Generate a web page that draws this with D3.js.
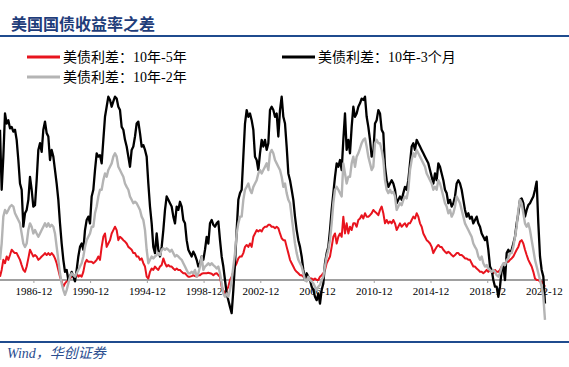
<!DOCTYPE html>
<html>
<head>
  <meta charset="utf-8">
  <title>美国国债收益率之差</title>
  <script src="https://cdn.jsdelivr.net/npm/d3@7"></script>
  <style>
    body { margin: 0; background: #fff; }
    svg { display: block; }
    .serif { font-family: "Liberation Serif", "Times New Roman", "Noto Sans CJK SC", serif; }
  </style>
</head>
<body>
<script>
// 10年-5年, 10年-2年, 10年-3个月 spreads (%), start 1984-07 to 2022-12
var spread10y5y = [
  0.07,0.21,0.42,0.35,0.49,0.42,0.52,0.63,0.59,0.56,0.56,0.49,0.42,0.31,0.21,0.17,0.28,0.45,0.63,0.56,0.49,0.52,0.49,0.42,0.45,0.49,0.52,0.56,0.52,0.56,0.52,0.56,0.52,0.45,0.35,0.21,0.07,-0.03,-0.14,-0.07,-0.03,0,0.03,0.07,0.10,0.07,0.14,0.07,0.10,0.07,0.17,0.35,0.42,0.38,0.38,0.38,0.35,
  0.38,0.42,0.49,0.42,0.69,0.90,0.97,0.69,0.76,0.83,0.97,1.04,1.11,1.04,0.83,0.90,0.87,0.83,0.80,0.76,0.69,0.66,0.63,0.56,0.56,0.49,0.49,0.42,0.45,0.35,0.28,0.07,0.03,0.17,0.24,0.21,0.28,0.24,0.21,0.28,0.31,0.45,0.35,0.28,0.31,0.28,0.28,0.24,0.21,0.24,0.21,0.21,0.17,0.14,0.14,0.10,0.07,
  0.07,0.08,0.10,0.08,0.07,0.10,0.10,0.13,0.14,0.14,0.14,0.15,0.14,0.13,0.10,0.13,0.14,0.10,0.07,-0.14,-0.21,-0.28,-0.21,-0.14,0,0.07,0.17,0.28,0.35,0.45,0.49,0.49,0.56,0.69,0.73,0.69,0.76,0.69,0.90,0.97,1.04,1.01,1.04,1.01,1.08,1.11,1.11,1.15,1.15,1.11,1.11,1.08,1.11,1.08,0.97,0.87,0.83,
  0.83,0.69,0.56,0.42,0.35,0.28,0.21,0.17,0.14,0.10,0.10,0.07,0.07,0.06,0.07,0.03,0.03,0,0.03,0,0,0.07,0.10,0.14,0.21,0.35,0.42,0.49,0.69,0.90,0.97,0.76,0.90,0.97,0.90,1.32,0.97,1.18,0.97,1.11,1.04,1.18,1.18,1.11,1.25,1.28,1.35,1.28,1.39,1.32,1.32,1.35,1.39,1.46,1.42,1.39,1.35,
  1.46,1.53,1.39,1.18,1.25,1.18,1.22,1.18,1.25,1.18,1.04,1.11,1.18,1.11,1.15,1.18,1.11,1.18,1.18,1.25,1.32,1.28,1.39,1.32,1.18,1.11,0.97,0.90,0.83,0.80,0.76,0.69,0.56,0.63,0.69,0.73,0.69,0.69,0.63,0.59,0.56,0.59,0.56,0.52,0.49,0.52,0.56,0.56,0.52,0.52,0.49,0.45,0.45,0.42,0.42,0.35,0.28,
  0.28,0.24,0.21,0.17,0.17,0.14,0.17,0.21,0.17,0.21,0.17,0.14,0.21,0.17,0.17,0.21,0.28,0.31,0.35,0.38,0.38,0.42,0.45,0.49,0.56,0.63,0.69,0.80,0.83,0.76,0.63,0.52,0.42,0.35,0.28,0.17,0.03,0,0,-0.03,-0.03,-0.07,-0.14
];
var spread10y3m = [
  3.13,1.88,2.57,3.47,3.26,3.33,3.16,3.19,3.09,3.13,2.92,2.50,2.01,1.88,1.11,1.39,1.46,1.67,2.15,1.88,1.53,1.56,2.08,2.71,2.85,2.67,3.13,3.30,3.06,2.99,2.50,2.71,2.57,2.29,2.01,1.67,1.18,0.76,0.42,0.17,0.21,0,0.07,0.17,0.07,-0.03,0.21,0.49,0.69,0.76,0.63,1.04,1.25,1.32,1.18,1.74,1.88,
  2.29,2.64,2.57,2.60,2.43,2.92,3.40,3.61,3.82,3.75,3.61,3.72,3.82,3.78,3.61,3.54,3.19,3.13,2.92,2.78,2.57,2.36,2.71,2.78,2.99,3.26,3.30,3.06,2.78,2.81,2.71,2.57,2.01,1.53,1.18,0.69,0.56,0.97,0.63,0.49,0.69,1.04,1.46,1.74,1.67,1.60,1.53,1.32,1.18,1.53,1.46,1.63,1.53,1.25,1.18,0.83,0.63,
  0.56,0.49,0.59,0.52,0.42,0.28,0.35,0.49,0.42,0.63,0.90,0.76,1.18,1.25,1.15,1.11,1.18,1.22,0.83,0.49,0.28,0,-0.28,-0.42,-0.56,-0.69,-0.21,0.35,1.04,1.67,1.81,1.88,2.57,3.26,3.54,3.40,3.47,3.33,3.13,2.57,2.50,2.29,2.64,2.92,2.78,2.92,2.71,2.85,3.54,3.61,3.54,3.40,3.47,2.99,3.54,3.82,3.40,
  3.26,2.78,2.22,2.08,1.88,1.67,1.32,1.04,0.83,0.69,0.49,0.21,0,0.14,0.07,0,-0.14,-0.21,-0.35,-0.42,-0.28,-0.49,-0.21,-0.07,0.35,0.56,0.69,1.04,1.46,1.81,2.15,2.43,2.36,2.50,2.29,2.92,3.47,2.71,2.92,2.64,3.19,3.61,3.40,3.47,3.61,3.68,3.78,3.75,3.82,3.40,3.19,2.92,2.57,2.64,3.26,3.33,3.54,
  3.47,3.13,3.06,2.36,2.08,1.94,2.01,2.08,2.01,1.88,1.60,1.67,1.74,1.67,1.81,1.94,1.88,2.08,2.43,2.78,2.85,2.71,2.92,2.85,2.78,2.71,2.64,2.57,2.50,2.43,2.29,2.15,2.01,2.22,2.08,2.43,2.36,2.22,2.08,1.88,1.81,1.60,1.67,1.53,1.60,1.74,2.01,2.08,2.01,1.88,1.67,1.46,1.32,1.39,1.28,1.32,1.18,
  1.25,1.32,1.18,1.11,0.97,0.90,0.83,0.90,0.63,0.28,0.21,0,-0.14,-0.14,-0.35,-0.14,0.21,0.28,0,0.56,0.63,0.56,0.63,0.76,0.90,1.18,1.39,1.67,1.70,1.60,1.32,1.46,1.56,1.60,1.67,1.74,1.88,2.05,1.18,0.49,0.21,0.07,-0.49
];
var spread10y2y = [
  0.42,0.76,1.32,1.46,1.39,1.46,1.53,1.56,1.53,1.39,1.32,1.25,1.18,0.97,0.76,0.69,0.76,1.04,1.18,1.11,0.97,1.04,0.97,0.90,0.97,1.04,1.11,1.18,1.11,1.18,1.11,1.15,1.11,0.97,0.69,0.42,0.14,-0.07,-0.21,-0.31,-0.21,-0.07,0.07,0.14,0.10,0.07,0.14,0.21,0.28,0.35,0.49,0.69,0.83,0.90,0.97,1.11,1.11,
  1.39,1.53,1.74,1.88,1.88,2.08,2.22,2.15,2.29,2.36,2.43,2.57,2.64,2.57,2.36,2.29,2.22,2.15,2.01,1.94,1.88,1.74,1.67,1.60,1.63,1.60,1.53,1.46,1.32,1.25,1.04,0.63,0.35,0.42,0.49,0.45,0.49,0.52,0.56,0.52,0.63,0.66,0.63,0.66,0.63,0.59,0.63,0.56,0.49,0.52,0.49,0.45,0.42,0.35,0.28,0.21,0.14,
  0.14,0.17,0.14,0.21,0.07,0.14,0.28,0.49,0.21,0.28,0.31,0.35,0.31,0.35,0.31,0.28,0.24,0.28,0.14,-0.07,-0.28,-0.35,-0.28,-0.35,-0.21,0,0.28,0.56,0.97,1.18,1.32,1.32,1.67,1.88,1.94,2.01,1.88,1.81,1.94,2.01,2.08,2.22,2.29,2.22,2.29,2.36,2.43,2.29,2.64,2.71,2.64,2.50,2.43,2.36,2.29,2.15,1.94,
  2.01,1.81,1.67,1.60,1.32,1.04,0.76,0.56,0.42,0.35,0.28,0.14,0,-0.03,0.07,0,-0.03,-0.07,-0.14,-0.21,-0.14,-0.10,0,0.07,0.28,0.49,0.63,0.83,1.18,1.60,1.88,1.94,1.88,1.81,1.74,2.43,2.22,2.01,2.15,2.15,2.43,2.57,2.36,2.57,2.64,2.74,2.85,2.92,2.95,2.78,2.57,2.43,2.29,2.36,2.85,2.92,2.85,
  2.85,2.71,2.50,2.08,1.88,1.81,1.88,1.81,1.84,1.74,1.46,1.53,1.60,1.56,1.67,1.74,1.70,1.88,2.29,2.50,2.64,2.57,2.71,2.64,2.57,2.50,2.43,2.36,2.22,2.15,2.08,2.01,1.88,1.94,1.88,2.08,2.01,1.88,1.74,1.60,1.53,1.39,1.46,1.32,1.39,1.53,1.74,1.67,1.60,1.46,1.32,1.18,1.11,1.04,0.97,0.90,0.76,
  0.69,0.63,0.49,0.42,0.49,0.35,0.28,0.31,0.24,0.21,0.17,0.21,0.17,0.10,0.07,0.14,0.28,0.35,0.31,0.42,0.45,0.56,0.56,0.69,0.90,1.11,1.46,1.67,1.60,1.39,1.18,1.11,1.18,1.04,0.83,0.63,0.42,0.28,0.14,0,-0.14,-0.35,-0.83
];
var firstDate = new Date(1984, 6, 24);
var lastDate = new Date(2022, 11, 28);
var tickYears = [1986, 1990, 1994, 1998, 2002, 2006, 2010, 2014, 2018, 2022];
var seriesNames = ["美债利差：10年-5年", "美债利差：10年-3个月", "美债利差：10年-2年"];

// samples are evenly spaced between the first and last date
var n = spread10y5y.length;
var dates = d3.range(n).map(function (i) {
  return new Date(+firstDate + i * (lastDate - firstDate) / (n - 1));
});

var width = 569, height = 367;
var svg = d3.select("body").append("svg")
  .attr("width", width)
  .attr("height", height);

// header
svg.append("text")
  .attr("x", 11)
  .attr("y", 30)
  .attr("font-family", "Noto Sans CJK SC")
  .attr("font-weight", "bold")
  .attr("font-size", 16)
  .attr("fill", "#1f3d7a")
  .text("美国国债收益率之差");
svg.append("line")
  .attr("x1", 0).attr("x2", width)
  .attr("y1", 36).attr("y2", 36)
  .attr("stroke", "#1f4b8e")
  .attr("stroke-width", 2);

var x = d3.scaleTime()
  .domain([firstDate, lastDate])
  .range([0, 545]);
var y = d3.scaleLinear()
  .domain([-1, 4])
  .range([328, 88]);

// zero axis with date ticks
var xAxis = d3.axisBottom(x)
  .tickValues(tickYears.map(function (yr) { return new Date(yr, 11, 1); }))
  .tickFormat(d3.timeFormat("%Y-%m"))
  .tickSize(3)
  .tickSizeOuter(0);
var axisG = svg.append("g")
  .attr("class", "serif")
  .attr("transform", "translate(0," + y(0) + ")")
  .call(xAxis);
axisG.select(".domain")
  .attr("stroke", "#a0a0a0")
  .attr("stroke-width", 2)
  .attr("d", "M" + x(firstDate) + ",0H" + (x(lastDate) + 3));
axisG.selectAll(".tick line")
  .attr("stroke", "#a0a0a0");
axisG.selectAll(".tick text")
  .attr("font-family", "Liberation Serif")
  .attr("font-size", 11)
  .attr("fill", "#000")
  .attr("y", 7);

var line = d3.line()
  .x(function (d, i) { return x(dates[i]); })
  .y(function (d) { return y(d); });

var series = [
  { values: spread10y5y, color: "#e8141e", w: 2 },
  { values: spread10y3m, color: "#000000", w: 2.3 },
  { values: spread10y2y, color: "#b4b4b4", w: 2.4 }
];
svg.append("g").selectAll("path")
  .data(series)
  .join("path")
  .attr("fill", "none")
  .attr("stroke", function (d) { return d.color; })
  .attr("stroke-width", function (d) { return d.w; })
  .attr("stroke-linejoin", "round")
  .attr("d", function (d) { return line(d.values); });

// legend
var legendPos = [[27, 57], [282, 57], [27, 77]];
var legend = svg.append("g").selectAll("g")
  .data(series)
  .join("g")
  .attr("transform", function (d, i) { return "translate(" + legendPos[i][0] + "," + legendPos[i][1] + ")"; });
legend.append("line")
  .attr("x1", 0).attr("x2", 33)
  .attr("stroke", function (d) { return d.color; })
  .attr("stroke-width", 3);
legend.append("text")
  .attr("class", "serif")
  .attr("x", 36)
  .attr("y", 5)
  .attr("font-size", 14)
  .attr("fill", "#000")
  .text(function (d, i) { return seriesNames[i]; });

// footer
svg.append("line")
  .attr("x1", 0).attr("x2", width)
  .attr("y1", 342).attr("y2", 342)
  .attr("stroke", "#1f4b8e")
  .attr("stroke-width", 2);
svg.append("text")
  .attr("class", "serif")
  .attr("x", 7)
  .attr("y", 358)
  .attr("font-size", 14)
  .attr("font-style", "italic")
  .attr("fill", "#2a4d8f")
  .text("Wind，华创证券");
</script>
</body>
</html>
